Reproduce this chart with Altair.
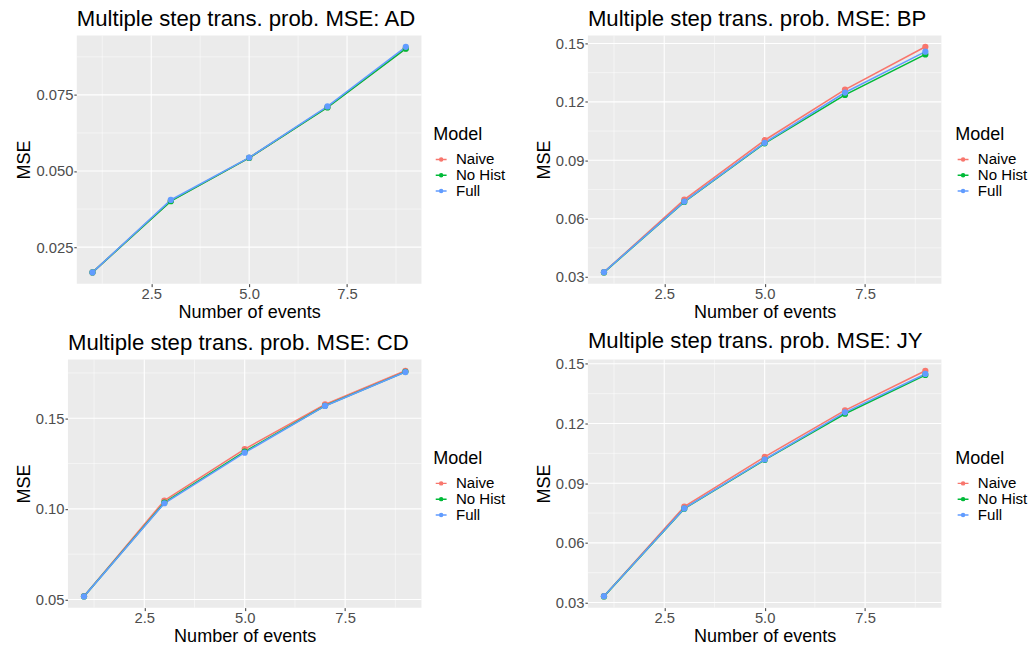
import altair as alt
import pandas as pd

# ---------------- data ----------------
EVENTS = [1, 3, 5, 7, 9]
MODELS = ["Naive", "No Hist", "Full"]
COLORS = ["#F8766D", "#00BA38", "#619CFF"]

AD_NAIVE = [0.0167, 0.0402, 0.0543, 0.0710, 0.0903]
AD_NOHIST = [0.0167, 0.0401, 0.0543, 0.0709, 0.0902]
AD_FULL = [0.0167, 0.0405, 0.0544, 0.0712, 0.0908]

BP_NAIVE = [0.0325, 0.0698, 0.1003, 0.1263, 0.1483]
BP_NOHIST = [0.0324, 0.0686, 0.0987, 0.1236, 0.1444]
BP_FULL = [0.0325, 0.0688, 0.0990, 0.1248, 0.1458]

CD_NAIVE = [0.0518, 0.1046, 0.1330, 0.1576, 0.1762]
CD_NOHIST = [0.0517, 0.1034, 0.1316, 0.1569, 0.1756]
CD_FULL = [0.0517, 0.1031, 0.1310, 0.1568, 0.1755]

JY_NAIVE = [0.0332, 0.0782, 0.1032, 0.1266, 0.1465]
JY_NOHIST = [0.0331, 0.0772, 0.1017, 0.1249, 0.1444]
JY_FULL = [0.0332, 0.0773, 0.1019, 0.1256, 0.1449]

X_MAJOR = [2.5, 5.0, 7.5]
X_MINOR = [1.25, 3.75, 6.25, 8.75]

AD_Y_MAJOR = [0.025, 0.05, 0.075]
AD_Y_MINOR = [0.0375, 0.0625, 0.0875]
BP_Y_MAJOR = [0.03, 0.06, 0.09, 0.12, 0.15]
BP_Y_MINOR = [0.045, 0.075, 0.105, 0.135]
CD_Y_MAJOR = [0.05, 0.10, 0.15]
CD_Y_MINOR = [0.075, 0.125, 0.175]
JY_Y_MAJOR = [0.03, 0.06, 0.09, 0.12, 0.15]
JY_Y_MINOR = [0.045, 0.075, 0.105, 0.135]

FONT = "Liberation Sans"
PANEL_BG = "#EBEBEB"
W = 359
H = 252


def expand(vals, mult=0.05):
    lo, hi = min(vals), max(vals)
    pad = (hi - lo) * mult
    return [lo - pad, hi + pad]


def make_df(naive, nohist, full):
    rows = []
    for m, ser in zip(MODELS, [naive, nohist, full]):
        for x, y in zip(EVENTS, ser):
            rows.append({"Events": x, "MSE": y, "Model": m})
    return pd.DataFrame(rows)


def grid_df(field, major, minor):
    return pd.DataFrame(
        {field: list(major) + list(minor),
         "w": [1.1] * len(major) + [0.5] * len(minor)}
    )


def panel(name, naive, nohist, full, ymaj, ymin, yfmt, inset, legx):
    df = make_df(naive, nohist, full)
    xdom = expand(EVENTS)
    ydom = expand(naive + nohist + full)

    xaxis_kw = dict(title="Number of events", values=X_MAJOR, format=".1f",
                    grid=False, labelPadding=0, titlePadding=2,
                    labelFlush=False, labelOverlap=False)
    if inset:
        xaxis_kw["titleX"] = (inset + W) / 2
    yaxis_kw = dict(title="MSE", values=ymaj, format=yfmt, grid=False,
                    labelPadding=1, titlePadding=2,
                    labelFlush=False, labelOverlap=False)
    if inset:
        yaxis_kw["offset"] = -inset

    xs = alt.Scale(domain=xdom, nice=False, zero=False, range=[inset, W])
    ys = alt.Scale(domain=ydom, nice=False, zero=False)
    x = alt.X("Events:Q", scale=xs, axis=alt.Axis(**xaxis_kw))
    y = alt.Y("MSE:Q", scale=ys, axis=alt.Axis(**yaxis_kw))

    color = alt.Color(
        "Model:N",
        scale=alt.Scale(domain=MODELS, range=COLORS),
        sort=MODELS,
        legend=alt.Legend(
            title="Model",
            orient="none",
            legendX=legx,
            legendY=92,
            symbolType="M-0.8,0H0.8M0,-0.22A0.22,0.22,0,1,1,0,0.22A0.22,0.22,0,1,1,0,-0.22Z",
            symbolSize=190,
            symbolStrokeWidth=1.5,
            rowPadding=0,
            clipHeight=13,
            titlePadding=9,
            labelOffset=7,
        ),
    )

    bg = alt.Chart(pd.DataFrame({"panel": [name]})).mark_rect(
        color=PANEL_BG).encode(
        x=alt.value(inset), x2=alt.value(W), y=alt.value(0), y2=alt.value(H))
    vgrid = alt.Chart(grid_df("Events", X_MAJOR, X_MINOR)).mark_rule(
        color="white").encode(
        x=x, y=alt.value(0), y2=alt.value(H),
        strokeWidth=alt.StrokeWidth("w:Q", scale=None, legend=None))
    hgrid = alt.Chart(grid_df("MSE", ymaj, ymin)).mark_rule(
        color="white").encode(
        y=y, x=alt.value(inset), x2=alt.value(W),
        strokeWidth=alt.StrokeWidth("w:Q", scale=None, legend=None))

    base = alt.Chart(df).encode(x=x, y=y, color=color)
    lines = base.mark_line(strokeWidth=1.6)
    pts = base.mark_point(filled=True, size=40, opacity=1)
    return alt.layer(bg, vgrid, hgrid, lines, pts).properties(
        width=W,
        height=H,
        title=alt.Title(
            f"Multiple step trans. prob. MSE: {name}",
            anchor="start",
            frame="group",
            dx=inset,
            fontSize=22.5,
            font=FONT,
            fontWeight="normal",
            color="black",
            offset=5,
        ),
    )


p_ad = panel("AD", AD_NAIVE, AD_NOHIST, AD_FULL, AD_Y_MAJOR, AD_Y_MINOR, ".3f", 9, W + 12)
p_bp = panel("BP", BP_NAIVE, BP_NOHIST, BP_FULL, BP_Y_MAJOR, BP_Y_MINOR, ".2f", 0, W + 14)
p_cd = panel("CD", CD_NAIVE, CD_NOHIST, CD_FULL, CD_Y_MAJOR, CD_Y_MINOR, ".2f", 0, W + 12)
p_jy = panel("JY", JY_NAIVE, JY_NOHIST, JY_FULL, JY_Y_MAJOR, JY_Y_MINOR, ".2f", 0, W + 14)

chart = (
    alt.concat(p_ad, p_bp, p_cd, p_jy, columns=2,
               spacing={"row": 8, "column": 28})
    .resolve_scale(x="independent", y="independent", color="independent")
    .resolve_legend(color="independent")
    .properties(padding={"left": 14, "top": 2, "right": 5, "bottom": 5}, background="white")
    .configure_view(stroke=None, fill=None)
    .configure_axis(
        labelFont=FONT,
        titleFont=FONT,
        labelFontSize=15,
        labelColor="#4D4D4D",
        titleFontSize=18.3,
        titleFontWeight="normal",
        titleColor="black",
        domain=False,
        tickColor="#333333",
        tickSize=3,
        tickWidth=1,
    )
    .configure_legend(
        labelFont=FONT,
        titleFont=FONT,
        labelFontSize=15.3,
        titleFontSize=18.3,
        titleFontWeight="normal",
        titleColor="black",
        labelColor="black",
    )
)

chart.save("out.html", embed_options={"renderer": "svg", "actions": False})
